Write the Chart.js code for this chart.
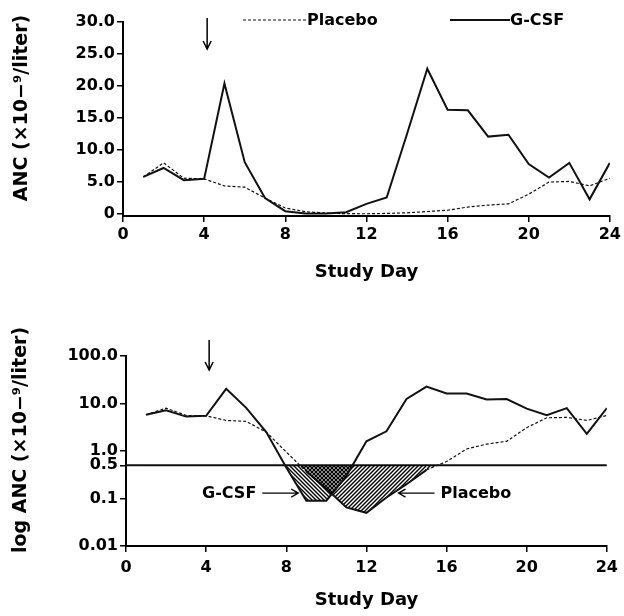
<!DOCTYPE html>
<html>
<head>
<meta charset="utf-8">
<script src="https://cdn.jsdelivr.net/npm/chart.js@4"></script>
<style>
  html, body { margin: 0; padding: 0; background: #fff; }
  #wrap { position: relative; width: 624px; height: 616px; }
  .panel { position: absolute; left: 0; width: 624px; }
  #top { top: 0; height: 300px; }
  #bottom { top: 300px; height: 316px; }
</style>
</head>
<body>
<div id="wrap">
  <div class="panel" id="top"><canvas id="linChart" width="624" height="300"></canvas></div>
  <div class="panel" id="bottom"><canvas id="logChart" width="624" height="316"></canvas></div>
</div>
<script>
// values, ANC in 10^9 cells per liter
const studyDays = [1, 2, 3, 4, 5, 6, 7, 8, 9, 10, 11, 12, 13, 14, 15, 16, 17, 18, 19, 20, 21, 22, 23, 24];
const gcsfAnc = [5.8, 7.2, 5.3, 5.5, 20.4, 8.1, 2.5, 0.45, 0.09, 0.09, 0.3, 1.6, 2.6, 12.5, 22.7, 16.3, 16.2, 12.1, 12.4, 7.8, 5.7, 8.0, 2.3, 8.0];
const placeboAnc = [5.8, 8.0, 5.6, 5.5, 4.4, 4.2, 2.5, 0.95, 0.37, 0.16, 0.065, 0.05, 0.105, 0.2, 0.4, 0.6, 1.1, 1.4, 1.6, 3.1, 5.0, 5.1, 4.4, 5.6];

const dayTicks = [0, 4, 8, 12, 16, 20, 24];
const ancTicks = [0, 5, 10, 15, 20, 25, 30];
const logTicks = [0.01, 0.1, 0.5, 1, 10, 100];
const logTickLabels = ["0.01", "0.1", "0.5", "1.0", "10.0", "100.0"];

const neutropeniaCutoff = 0.5; // horizontal line on the log panel
const doseDay = 4;             // arrow: start of treatment

// labelled arrows pointing into the shaded areas of the log panel
const calloutLabels = ["G-CSF", "Placebo"];
const calloutDays = [8.6, 13.6];
const calloutValues = [0.13, 0.13];
const calloutSides = ["left", "right"];

const FONT = "'DejaVu Sans', sans-serif";
Chart.defaults.font.family = FONT;
Chart.defaults.font.size = 16;
Chart.defaults.font.weight = "bold";
Chart.defaults.color = "#000";

const toPoints = (vals) => studyDays.map((d, i) => ({ x: d, y: vals[i] }));

function hatch(forward) {
  const c = document.createElement("canvas");
  c.width = 4;
  c.height = 4;
  const g = c.getContext("2d");
  g.strokeStyle = "#000";
  g.lineWidth = 1.4;
  g.beginPath();
  if (forward) {
    g.moveTo(0, 4); g.lineTo(4, 0);
    g.moveTo(-1, 1); g.lineTo(1, -1);
    g.moveTo(3, 5); g.lineTo(5, 3);
  } else {
    g.moveTo(0, 0); g.lineTo(4, 4);
    g.moveTo(-1, 3); g.lineTo(1, 5);
    g.moveTo(3, -1); g.lineTo(5, 1);
  }
  g.stroke();
  return g.createPattern(c, "repeat");
}

const doseArrow = {
  id: "doseArrow",
  afterDraw(chart, args, opts) {
    const { ctx, chartArea } = chart;
    const px = chart.scales.x.getPixelForValue(doseDay) + 3;
    const y0 = chartArea.top + opts.from;
    const y1 = chartArea.top + opts.to;
    ctx.save();
    ctx.strokeStyle = "#000";
    ctx.lineWidth = 1.5;
    ctx.beginPath();
    ctx.moveTo(px, y0);
    ctx.lineTo(px, y1);
    ctx.moveTo(px - 4, y1 - 8);
    ctx.lineTo(px, y1);
    ctx.lineTo(px + 4, y1 - 8);
    ctx.stroke();
    ctx.restore();
  },
};

// rotated y title, centred where the original puts it (a bit above the plot middle)
const sideTitle = {
  id: "sideTitle",
  afterDraw(chart, args, opts) {
    if (!opts.text) return;
    const { ctx, chartArea } = chart;
    ctx.save();
    ctx.translate(opts.x, (chartArea.top + chartArea.bottom) / 2 + opts.shift);
    ctx.rotate(-Math.PI / 2);
    ctx.font = "bold 19px " + FONT;
    ctx.textAlign = "center";
    ctx.textBaseline = "middle";
    ctx.fillStyle = "#000";
    ctx.fillText(opts.text, 0, 0);
    ctx.restore();
  },
};

// legend drawn inline, line sample running straight into the text
const inlineLegend = {
  id: "inlineLegend",
  afterDraw(chart, args, opts) {
    if (!opts.items) return;
    const { ctx } = chart;
    opts.items.forEach((it) => {
      const ds = chart.data.datasets[it.dataset];
      ctx.save();
      ctx.strokeStyle = ds.borderColor;
      ctx.lineWidth = ds.borderWidth;
      ctx.setLineDash(ds.borderDash || []);
      ctx.beginPath();
      ctx.moveTo(it.x, it.y);
      ctx.lineTo(it.x + it.len, it.y);
      ctx.stroke();
      ctx.setLineDash([]);
      ctx.font = "bold 16px " + FONT;
      ctx.textBaseline = "middle";
      ctx.fillStyle = "#000";
      ctx.fillText(ds.label, it.x + it.len, it.y + 1);
      ctx.restore();
    });
  },
};

const callouts = {
  id: "callouts",
  afterDraw(chart, args, opts) {
    if (!opts.show) return;
    const { ctx, scales } = chart;
    ctx.save();
    ctx.strokeStyle = "#000";
    ctx.fillStyle = "#000";
    ctx.lineWidth = 1.3;
    ctx.font = "bold 16px " + FONT;
    ctx.textBaseline = "middle";
    calloutLabels.forEach((label, i) => {
      const tx = scales.x.getPixelForValue(calloutDays[i]);
      const ty = scales.y.getPixelForValue(calloutValues[i]);
      const dir = calloutSides[i] === "left" ? -1 : 1;
      const tail = tx + dir * 36;
      ctx.beginPath();
      ctx.moveTo(tail, ty);
      ctx.lineTo(tx, ty);
      ctx.moveTo(tx + dir * 7, ty - 4);
      ctx.lineTo(tx, ty);
      ctx.lineTo(tx + dir * 7, ty + 4);
      ctx.stroke();
      ctx.textAlign = dir < 0 ? "right" : "left";
      ctx.fillText(label, tail + dir * 6, ty + 1);
    });
    ctx.restore();
  },
};

const blackGrid = { drawOnChartArea: false, drawTicks: true, tickLength: 6, color: "#000", lineWidth: 1.5 };
const blackBorder = { display: true, color: "#000", width: 2 };

function xAxis(height, titlePad, tickPad) {
  return {
    type: "linear",
    min: 0,
    max: 24,
    afterBuildTicks: (s) => { s.ticks = dayTicks.map((v) => ({ value: v })); },
    ticks: { padding: tickPad, maxRotation: 0, autoSkip: false, callback: (v) => String(v) },
    grid: blackGrid,
    border: blackBorder,
    title: { display: true, text: "Study Day", font: { size: 18, weight: "bold" }, padding: { top: 0, bottom: titlePad } },
    afterFit: (s) => { s.height = height; },
  };
}

// top panel: linear ANC
new Chart(document.getElementById("linChart"), {
  type: "line",
  data: {
    datasets: [
      { label: "G-CSF", data: toPoints(gcsfAnc), borderColor: "#111", borderWidth: 2, pointRadius: 0, tension: 0 },
      { label: "Placebo", data: toPoints(placeboAnc), borderColor: "#111", borderWidth: 1.2, borderDash: [3, 2], pointRadius: 0, tension: 0 },
    ],
  },
  options: {
    responsive: false,
    animation: false,
    layout: { padding: { top: 22, right: 13, bottom: 0, left: 0 } },
    plugins: {
      legend: { display: false },
      tooltip: { enabled: false },
      doseArrow: { from: -4, to: 27 },
      sideTitle: { text: "ANC (×10−⁹/liter)", x: 22, shift: -11 },
      inlineLegend: { items: [{ dataset: 1, x: 243, y: 20, len: 64 }, { dataset: 0, x: 450, y: 20, len: 60 }] },
    },
    scales: {
      x: xAxis(84, 17, 3),
      y: {
        min: -0.3,
        max: 30,
        afterBuildTicks: (s) => { s.ticks = ancTicks.map((v) => ({ value: v })); },
        ticks: { padding: 2, autoSkip: false, callback: (v) => (v === 0 ? "0" : v.toFixed(1)) },
        grid: blackGrid,
        border: blackBorder,
        afterFit: (s) => { s.width = 123; },
      },
    },
  },
  plugins: [doseArrow, inlineLegend, sideTitle],
});

// bottom panel: log ANC with the area under the cutoff hatched
const under = "rgba(0,0,0,0)";
new Chart(document.getElementById("logChart"), {
  type: "line",
  data: {
    datasets: [
      {
        label: "G-CSF",
        data: toPoints(gcsfAnc),
        borderColor: "#111",
        borderWidth: 2,
        pointRadius: 0,
        tension: 0,
        fill: { target: { value: neutropeniaCutoff }, above: under, below: hatch(false) },
      },
      {
        label: "Placebo",
        data: toPoints(placeboAnc),
        borderColor: "#111",
        borderWidth: 1.2,
        borderDash: [3, 2],
        pointRadius: 0,
        tension: 0,
        segment: {
          borderDash: (c) => (c.p0.parsed.y < neutropeniaCutoff && c.p1.parsed.y < neutropeniaCutoff ? [] : [3, 2]),
          borderWidth: (c) => (c.p0.parsed.y < neutropeniaCutoff && c.p1.parsed.y < neutropeniaCutoff ? 2 : 1.2),
        },
        fill: { target: { value: neutropeniaCutoff }, above: under, below: hatch(true) },
      },
      {
        label: "cutoff",
        data: [{ x: 0, y: neutropeniaCutoff }, { x: 24, y: neutropeniaCutoff }],
        borderColor: "#111",
        borderWidth: 2,
        pointRadius: 0,
      },
    ],
  },
  options: {
    responsive: false,
    animation: false,
    layout: { padding: { top: 56, right: 12, bottom: 0, left: 0 } },
    plugins: {
      legend: { display: false },
      tooltip: { enabled: false },
      doseArrow: { from: -16, to: 14 },
      sideTitle: { text: "log ANC (×10−⁹/liter)", x: 21, shift: -11 },
      callouts: { show: true },
    },
    scales: {
      x: xAxis(70, 5, 6),
      y: {
        type: "logarithmic",
        min: 0.01,
        max: 100,
        afterBuildTicks: (s) => { s.ticks = logTicks.map((v) => ({ value: v })); },
        ticks: { padding: 2, autoSkip: false, callback: (v, i) => logTickLabels[i] },
        grid: blackGrid,
        border: blackBorder,
        afterFit: (s) => { s.width = 126; },
      },
    },
  },
  plugins: [doseArrow, callouts, sideTitle],
});
</script>
</body>
</html>
